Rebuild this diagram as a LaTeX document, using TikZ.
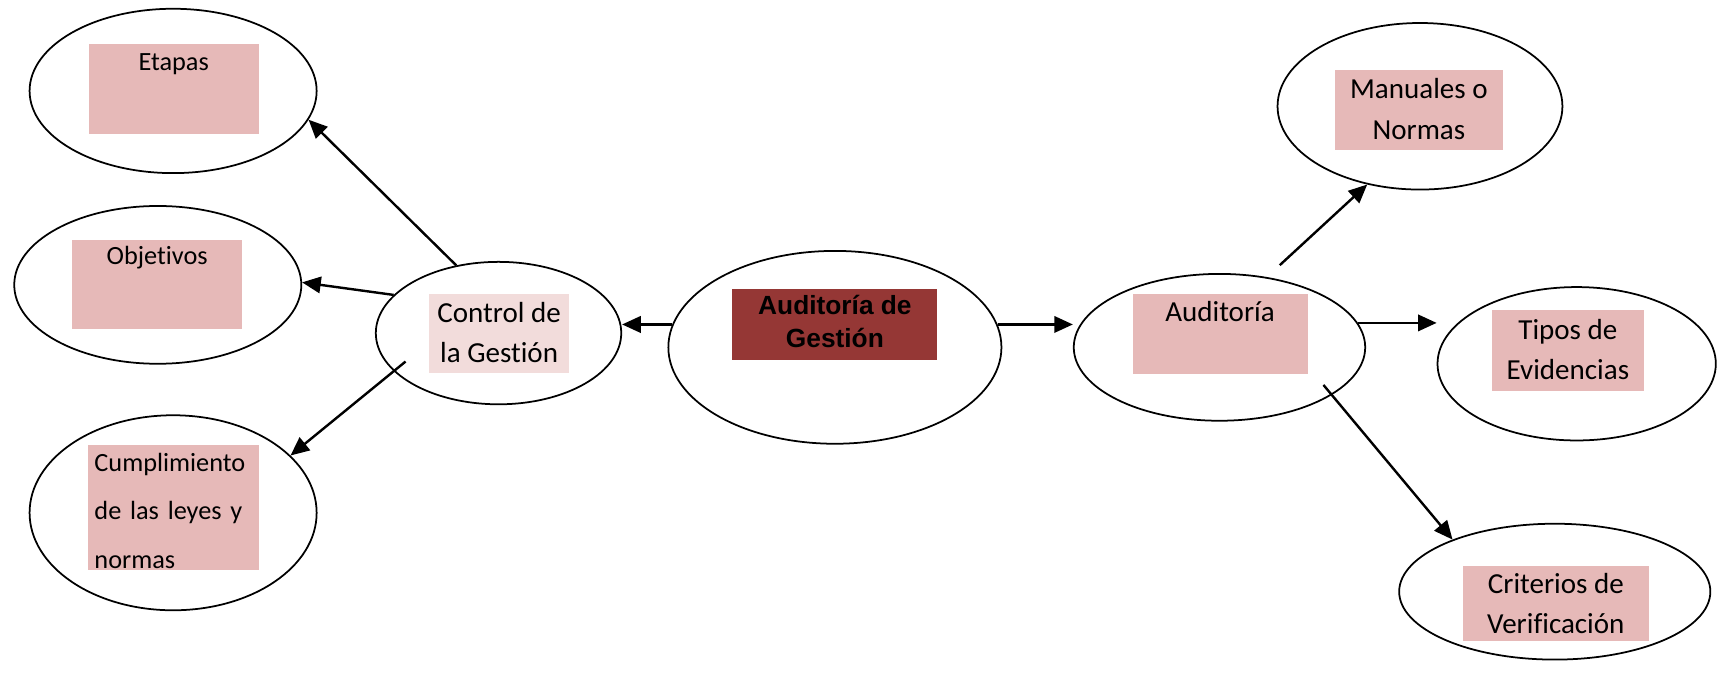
\documentclass[tikz,border=0pt]{standalone}
\usepackage{fontspec}
\setmainfont{Carlito}[Ligatures=NoCommon]
\newfontfamily\headfont{Liberation Sans}
\usetikzlibrary{shapes.geometric,arrows.meta}
\definecolor{boxpink}{HTML}{E6B9B8}
\definecolor{boxpale}{HTML}{F2DCDB}
\definecolor{boxdark}{HTML}{953735}
\begin{document}
\begin{tikzpicture}[x=0.5pt,y=-0.5pt,
  oval/.style={draw, ellipse, line width=0.8pt, inner sep=0pt, fill=white},
  tag/.style={rectangle, inner sep=0pt, fill=boxpink},
  link/.style={line width=1.1pt, -{Triangle[length=8.5pt,width=7.5pt]}},
  bigtxt/.style={font=\fontsize{13.25}{18.5}\selectfont, align=center, inner sep=0pt, anchor=base},
  smalltxt/.style={font=\fontsize{12}{14}\selectfont, inner sep=0pt, anchor=base},
  headtxt/.style={font=\headfont\bfseries\fontsize{12}{15.5}\selectfont, align=center, inner sep=0pt, anchor=base},
]
\useasboundingbox (0,0) rectangle (1568,615);

% ellipses
\node[oval, minimum width=131pt, minimum height=75pt] (etapas) at (158,83) {};
\node[oval, minimum width=131pt, minimum height=72pt] (obj) at (144,260) {};
\node[oval, minimum width=131pt, minimum height=89pt] (cum) at (158,468) {};
\node[oval, minimum width=112pt, minimum height=65pt] (ctrl) at (455,304) {};
\node[oval, minimum width=152pt, minimum height=88pt] (cen) at (762,317) {};
\node[oval, minimum width=133pt, minimum height=67pt] (aud) at (1113,317) {};
\node[oval, minimum width=130pt, minimum height=76pt] (man) at (1296,97) {};
\node[oval, minimum width=127pt, minimum height=70pt] (tip) at (1439,332) {};
\node[oval, minimum width=142pt, minimum height=62pt] (crit) at (1419,540) {};

% coloured label boxes
\node[tag, minimum width=77.5pt, minimum height=41pt] (etapasbox) at (158.5,81) {};
\node[tag, minimum width=77.5pt, minimum height=40.5pt] (objbox) at (143.5,259.5) {};
\node[tag, minimum width=78pt, minimum height=57pt] (cumbox) at (158.5,463) {};
\node[tag, fill=boxpale, minimum width=64pt, minimum height=36pt] (ctrlbox) at (455.5,304) {};
\node[tag, fill=boxdark, minimum width=93.5pt, minimum height=32.5pt] (cenbox) at (761.5,296.5) {};
\node[tag, minimum width=80pt, minimum height=36.5pt] (audbox) at (1114,304.5) {};
\node[tag, minimum width=77pt, minimum height=36.5pt] (manbox) at (1295,100.5) {};
\node[tag, minimum width=69pt, minimum height=37pt] (tipbox) at (1431,320) {};
\node[tag, minimum width=85pt, minimum height=34pt] (critbox) at (1420,551) {};

% texts (multi-line nodes sit on the baseline of their last line)
\node[smalltxt] (etapastxt) at (158.5,64) {Etapas};
\node[smalltxt] (objtxt) at (143.5,241.5) {Objetivos};
\node[inner sep=0pt, anchor=base west, text width=73pt, align=left,
      font=\fontsize{12}{22}\selectfont] (cumtxt) at (85.8,430.5)
  {Cumplimiento\\\makebox[73pt][s]{de las leyes y}\\normas};
\node[bigtxt, font=\fontsize{13.25}{18.25}\selectfont] (ctrltxt) at (455.5,330.5) {Control de\\la Gestión};
\node[headtxt] (centxt) at (762,317.6) {Auditoría de\\Gestión};
\node[bigtxt] (audtxt) at (1113.5,293) {Auditoría};
\node[bigtxt] (mantxt) at (1295,127) {Manuales o\\Normas};
\node[bigtxt] (tiptxt) at (1431,346.4) {Tipos de\\Evidencias};
\node[bigtxt] (crittxt) at (1420,578.4) {Criterios de\\Verificación};

% connectors
\draw[link] (ctrl.122) -- (etapas.-12);
\draw[link] (ctrl.160) -- (obj.1);
\draw[link, shorten <=-7pt] (ctrl.200) -- (cum.26);
\draw[link] (cen.172) -- (ctrl.east |- cen.172);
\draw[link] (cen.8) -- (aud.west |- cen.8);
\draw[link, shorten <=8pt] (aud.56) -- (man.236);
\draw[link] (aud.10) -- (tip.west |- aud.10);
\draw[link, shorten <=-6pt] (aud.-23) -- (crit.153);
\end{tikzpicture}
\end{document}
